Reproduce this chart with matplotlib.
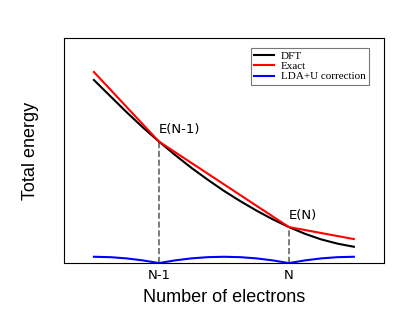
import matplotlib
matplotlib.use('Agg')
from matplotlib import pyplot as plt

# electron number (N-1 -> 1, N -> 2) and energies (arbitrary units)
x_dft = [0.5, 0.625, 0.75, 0.875, 1.0, 1.125, 1.25, 1.375, 1.5,
         1.625, 1.75, 1.875, 2.0, 2.125, 2.25, 2.375, 2.5]
e_dft = [183.0, 167.0, 151.0, 135.8, 121.5, 108.0, 95.2, 83.4, 72.2,
         62.0, 52.5, 43.8, 36.0, 29.2, 23.6, 19.4, 16.3]

x_exact = [0.5, 1.0, 2.0, 2.5]
e_exact = [191.0, 121.5, 36.0, 24.0]

x_corr = [0.5, 0.625, 0.75, 0.875, 1.0, 1.125, 1.25, 1.375, 1.5,
          1.625, 1.75, 1.875, 2.0, 2.125, 2.25, 2.375, 2.5]
e_corr = [6.3, 5.9, 4.7, 2.7, 0.0, 2.7, 4.7, 5.9, 6.3,
          5.9, 4.7, 2.7, 0.0, 2.7, 4.7, 5.9, 6.3]

tick_pos = [1.0, 2.0]
tick_labels = ['N-1', 'N']
point_labels = ['E(N-1)', 'E(N)']
point_e = [121.5, 36.0]

fig = plt.figure(figsize=(4.15, 3.22), dpi=100)
ax = fig.add_axes([0.154, 0.183, 0.771, 0.699])

ax.plot(x_dft, e_dft, color='black', lw=1.5, label='DFT')
ax.plot(x_exact, e_exact, color='red', lw=1.5, label='Exact')
ax.plot(x_corr, e_corr, color='blue', lw=1.5, label='LDA+U correction')

for xp, ep, lab in zip(tick_pos, point_e, point_labels):
    ax.plot([xp, xp], [0, ep], color='#666666', ls='--', lw=1.2, zorder=1)
    ax.annotate(lab, (xp, ep), xytext=(0, 4), textcoords='offset points',
                ha='left', va='bottom', fontsize=9.5, family='DejaVu Sans')

ax.set_xlim(0.269, 2.731)
ax.set_ylim(0, 225)
ax.set_xticks(tick_pos)
ax.set_xticklabels(tick_labels, fontsize=9.5, family='DejaVu Sans')
ax.set_yticks([])
ax.tick_params(axis='x', length=0, pad=4)

ax.set_xlabel('Number of electrons', fontsize=13, family='Liberation Sans', va='top')
ax.xaxis.set_label_coords(0.5, -0.116)
ax.set_ylabel('Total energy', fontsize=13, family='Liberation Sans')
ax.yaxis.set_label_coords(-0.078, 0.5)

leg = ax.legend(loc='upper right', bbox_to_anchor=(0.954, 0.957), borderaxespad=0,
                prop={'family': 'Liberation Serif', 'size': 8}, fancybox=False,
                labelspacing=0.05, handlelength=1.8, borderpad=0.3, handletextpad=0.6)
leg.get_frame().set_edgecolor('#555555')
leg.get_frame().set_linewidth(0.8)

fig.savefig('out.png', dpi=100)
